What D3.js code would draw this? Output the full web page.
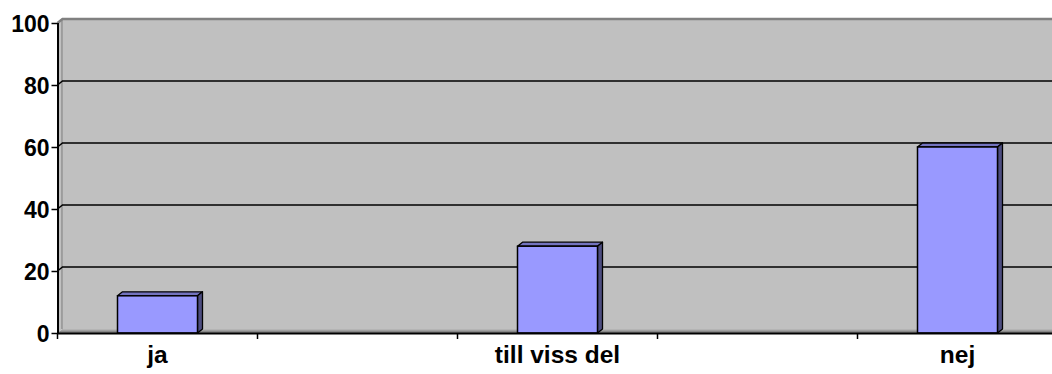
<!DOCTYPE html>
<html>
<head>
<meta charset="utf-8">
<script src="https://cdn.jsdelivr.net/npm/d3@7"></script>
<style>
  html, body { margin: 0; padding: 0; background: #ffffff; overflow: hidden; }
  svg { display: block; }
  text { font-family: "Liberation Sans", Arial, sans-serif; font-weight: bold; fill: #000; }
</style>
</head>
<body>
<svg id="chart" width="1052" height="374"></svg>
<script>
// Answer categories (blank slots are empty columns in the sheet)
const categories = ["ja", "", "till viss del", "", "nej"];
// Percentage per category
const values = [12, null, 28, null, 60];
// Value axis ticks
const yTicks = [0, 20, 40, 60, 80, 100];

const svg = d3.select("#chart");

// Front plane of the plot and the 3D depth offset of the back wall
const plotLeft = 57.5, plotRight = 1057.5, plotBottom = 333, plotTop = 23;
const dx = 5, dy = -4;

const x = d3.scaleBand()
  .domain(d3.range(categories.length))
  .range([plotLeft, plotRight])
  .paddingInner(0).paddingOuter(0);

const y = d3.scaleLinear().domain([0, 100]).range([plotBottom, plotTop]);

const wallFill = "#c0c0c0";
const wallEdge = "#808080";

// Back wall
svg.append("rect")
  .attr("x", plotLeft + dx).attr("y", y(100) + dy)
  .attr("width", plotRight - plotLeft).attr("height", y(0) - y(100))
  .attr("fill", wallFill);

// Side wall
svg.append("polygon")
  .attr("points", [[plotLeft, y(0)], [plotLeft, y(100)], [plotLeft + dx, y(100) + dy], [plotLeft + dx, y(0) + dy]].join(" "))
  .attr("fill", wallFill);
svg.append("line")
  .attr("x1", plotLeft + dx - 0.5).attr("x2", plotLeft + dx - 0.5)
  .attr("y1", y(100) + dy).attr("y2", y(0) + dy)
  .attr("stroke", "#909090").attr("stroke-width", 1.5);

// Floor
svg.append("polygon")
  .attr("points", [[plotLeft, y(0)], [plotLeft + dx, y(0) + dy], [plotRight + dx, y(0) + dy], [plotRight, y(0)]].join(" "))
  .attr("fill", "#a0a0a0");
svg.append("line")
  .attr("x1", plotLeft + dx).attr("x2", plotRight + dx)
  .attr("y1", y(0) + dy + 0.5).attr("y2", y(0) + dy + 0.5)
  .attr("stroke", "#b4b4b4").attr("stroke-width", 1);
svg.append("line")
  .attr("x1", plotLeft + 2).attr("x2", plotRight)
  .attr("y1", y(0) - 1).attr("y2", y(0) - 1)
  .attr("stroke", "#808080").attr("stroke-width", 1.5);

// Gridlines across side wall and back wall
const grid = yTicks.filter(v => v > 0 && v < 100);
svg.append("g").selectAll("path")
  .data(grid)
  .join("path")
  .attr("d", v => `M${plotLeft},${y(v)}L${plotLeft + dx},${y(v) + dy}L${plotRight + dx},${y(v) + dy}`)
  .attr("fill", "none")
  .attr("stroke", "#000")
  .attr("stroke-width", 1.5);

// Top edge of the walls
svg.append("path")
  .attr("d", `M${plotLeft},${y(100)}L${plotLeft + dx},${y(100) + dy}L${plotRight + dx},${y(100) + dy}`)
  .attr("fill", "none")
  .attr("stroke", wallEdge)
  .attr("stroke-width", 2.5);

// Bars with front, top and side faces
const gapWidth = 1.5;
const barW = x.bandwidth() / (1 + gapWidth);
const bars = svg.append("g").selectAll("g")
  .data(values.map((v, i) => ({ i, v })).filter(d => d.v != null))
  .join("g");

bars.append("polygon")
  .attr("points", d => {
    const x0 = x(d.i) + (x.bandwidth() - barW) / 2, yt = y(d.v);
    return [[x0, yt], [x0 + dx, yt + dy], [x0 + barW + dx, yt + dy], [x0 + barW, yt]].join(" ");
  })
  .attr("fill", "#7373bf").attr("stroke", "#000").attr("stroke-width", 1.3).attr("stroke-linejoin", "round");

bars.append("polygon")
  .attr("points", d => {
    const x1 = x(d.i) + (x.bandwidth() + barW) / 2, yt = y(d.v);
    return [[x1, yt], [x1 + dx, yt + dy], [x1 + dx, y(0) + dy], [x1, y(0)]].join(" ");
  })
  .attr("fill", "#4d4d80").attr("stroke", "#000").attr("stroke-width", 1.3).attr("stroke-linejoin", "round");

bars.append("rect")
  .attr("x", d => x(d.i) + (x.bandwidth() - barW) / 2)
  .attr("y", d => y(d.v))
  .attr("width", barW)
  .attr("height", d => y(0) - y(d.v))
  .attr("fill", "#9999ff").attr("stroke", "#000").attr("stroke-width", 1.5);

// Value axis
const yAxis = svg.append("g")
  .attr("transform", `translate(${plotLeft},0)`)
  .call(d3.axisLeft(y).tickValues(yTicks).tickSize(6).tickPadding(2).tickFormat(d3.format("d")));
yAxis.select(".domain").attr("stroke", "#000").attr("stroke-width", 2)
  .attr("d", `M0.5,${y(100)}V${y(0)}`);
yAxis.selectAll(".tick line").attr("stroke", "#000").attr("stroke-width", 1.5);
yAxis.selectAll(".tick text")
  .attr("font-size", 23).attr("font-family", "Liberation Sans, Arial, sans-serif")
  .attr("font-weight", "bold").attr("fill", "#000").attr("dy", "0.37em");

// Category axis
const xAxis = svg.append("g")
  .attr("transform", `translate(0,${plotBottom})`)
  .call(d3.axisBottom(x).tickSize(0).tickPadding(13).tickFormat(i => categories[i]));
xAxis.select(".domain").attr("stroke", "#000").attr("stroke-width", 2)
  .attr("d", `M${plotLeft},0.5H${plotRight}`);
xAxis.selectAll(".tick text")
  .attr("font-size", 24.5).attr("font-family", "Liberation Sans, Arial, sans-serif")
  .attr("font-weight", "bold").attr("fill", "#000");

// Tick marks on category boundaries
svg.append("g").selectAll("line")
  .data(d3.range(categories.length + 1))
  .join("line")
  .attr("x1", i => plotLeft + i * x.step()).attr("x2", i => plotLeft + i * x.step())
  .attr("y1", plotBottom).attr("y2", plotBottom + 6)
  .attr("stroke", "#000").attr("stroke-width", 1.5);
</script>
</body>
</html>
